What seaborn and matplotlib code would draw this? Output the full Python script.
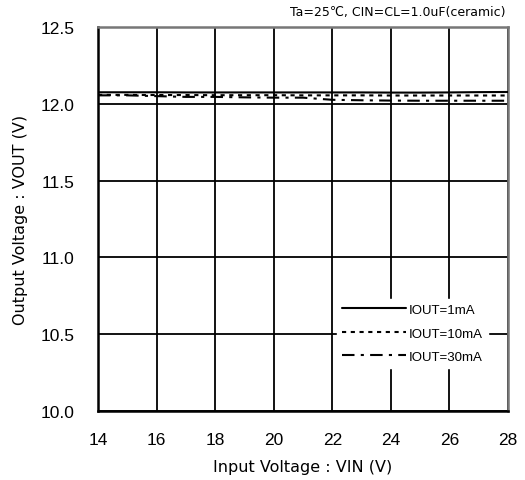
import matplotlib
matplotlib.use("Agg")
import matplotlib.pyplot as plt
import seaborn as sns
import pandas as pd

vin = [14, 15, 16, 17, 18, 19, 20, 21, 22, 23, 24, 25, 26, 27, 28]
iout_1mA = [12.075, 12.075, 12.075, 12.074, 12.074, 12.074, 12.074, 12.074, 12.074, 12.074, 12.073, 12.073, 12.074, 12.076, 12.077]
iout_10mA = [12.058, 12.058, 12.057, 12.057, 12.056, 12.056, 12.056, 12.055, 12.055, 12.055, 12.054, 12.054, 12.054, 12.054, 12.054]
iout_30mA = [12.055, 12.055, 12.05, 12.045, 12.045, 12.042, 12.04, 12.04, 12.026, 12.023, 12.021, 12.02, 12.02, 12.02, 12.02]
labels = ["IOUT=1mA", "IOUT=10mA", "IOUT=30mA"]
x_ticks = [14, 16, 18, 20, 22, 24, 26, 28]
y_ticks = [10.0, 10.5, 11.0, 11.5, 12.0, 12.5]

sns.set_style("white")
plt.rcParams['font.family'] = ['Liberation Sans', 'DejaVu Sans']
plt.rcParams['text.color'] = 'black'
plt.rcParams['axes.labelcolor'] = 'black'
plt.rcParams['xtick.color'] = 'black'
plt.rcParams['ytick.color'] = 'black'

fig = plt.figure(figsize=(5.25, 4.81), dpi=100)
ax = fig.add_axes([98/525, 69/481, 410/525, 384/481])

series = [iout_1mA, iout_10mA, iout_30mA]
styles = ['-', (0, (2, 2.2)), (0, (6, 3, 1.5, 3))]
for lab, vals, ls in zip(labels, series, styles):
    df = pd.DataFrame({"VIN": vin, "VOUT": vals})
    sns.lineplot(data=df, x="VIN", y="VOUT", ax=ax, color="black",
                 linewidth=1.5, linestyle=ls, label=lab, zorder=3)

ax.set_xlim(14, 28)
ax.set_ylim(10.0, 12.5)
ax.set_xticks(x_ticks)
ax.set_yticks(y_ticks)
ax.set_xticklabels([str(t) for t in x_ticks], fontsize=12.5, color='black')
ax.set_yticklabels([f"{t:.1f}" for t in y_ticks], fontsize=12.5, color='black')
ax.grid(True, color="black", linewidth=1.3)
ax.tick_params(axis='x', length=0, pad=15, labelcolor='black')
ax.tick_params(axis='y', length=0, pad=17, labelcolor='black')
for s in ['left', 'bottom']:
    ax.spines[s].set_color('black')
    ax.spines[s].set_linewidth(1.8)
for s in ['top', 'right']:
    ax.spines[s].set_color('#777777')
    ax.spines[s].set_linewidth(1.8)

ax.set_xlabel("Input Voltage : VIN (V)", fontsize=11.5,
              family=['DejaVu Sans'], color='black')
ax.set_ylabel("Output Voltage : VOUT (V)", fontsize=11.5,
              family=['DejaVu Sans'], color='black')
ax.yaxis.set_label_coords(-0.17, 0.5)
ax.xaxis.set_label_coords(0.5, -0.125)

leg = ax.legend(loc='upper left', bbox_to_anchor=(0.567, 0.31), frameon=True,
                fancybox=False, edgecolor='white', facecolor='white', framealpha=1,
                handlelength=4.8, handletextpad=0.25, labelspacing=0.85,
                borderpad=0.4, prop={'family': ['Liberation Sans'], 'size': 9.5})
for t in leg.get_texts():
    t.set_color('black')
leg.set_zorder(5)

fig.text(0.963, 0.975, "Ta=25℃, CIN=CL=1.0uF(ceramic)", ha='right', va='center',
         fontsize=9, family=['DejaVu Sans'], color='black')

fig.savefig("out.png", dpi=100)
